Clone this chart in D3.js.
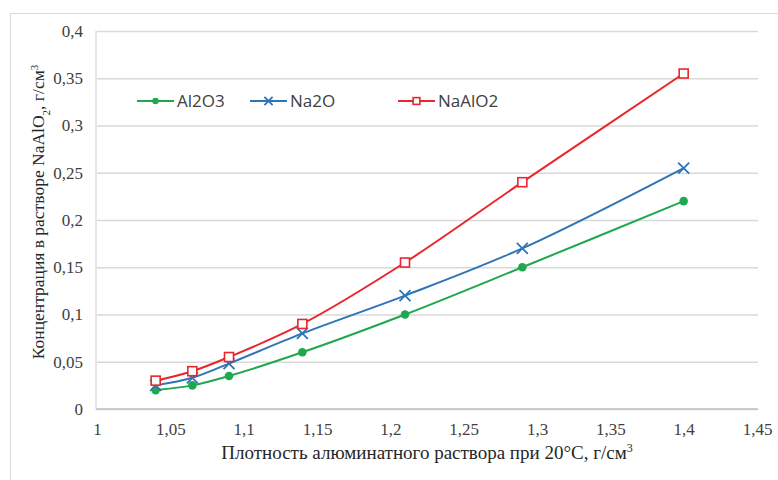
<!DOCTYPE html>
<html>
<head>
<meta charset="utf-8">
<script src="https://cdn.jsdelivr.net/npm/d3@7"></script>
<style>
  body { margin: 0; background: #fff; }
  svg { display: block; }
</style>
</head>
<body>
<svg id="chart" width="778" height="480"></svg>
<script>
// density values, g/cm3
const density = [1.04, 1.065, 1.09, 1.14, 1.21, 1.29, 1.4];
const al2o3 = [0.02, 0.025, 0.035, 0.06, 0.1, 0.15, 0.22];
const na2o = [0.025, 0.033, 0.048, 0.08, 0.12, 0.17, 0.255];
const naalo2 = [0.03, 0.04, 0.055, 0.09, 0.155, 0.24, 0.355];
const xTicks = [1, 1.05, 1.1, 1.15, 1.2, 1.25, 1.3, 1.35, 1.4, 1.45];
const yTicks = [0, 0.05, 0.1, 0.15, 0.2, 0.25, 0.3, 0.35, 0.4];
const seriesNames = ['Al2O3', 'Na2O', 'NaAlO2'];

const series = [
  { name: seriesNames[0], values: al2o3, color: '#1fa84f', marker: 'dot' },
  { name: seriesNames[1], values: na2o, color: '#2e75b6', marker: 'x' },
  { name: seriesNames[2], values: naalo2, color: '#e8262b', marker: 'square' }
];

const svg = d3.select('#chart');
const plot = { left: 97, right: 757, top: 31, bottom: 409 };

const fmt = d => String(d).replace('.', ',');
const serif = '"Liberation Serif", "DejaVu Serif", serif';

const xScale = d3.scaleLinear().domain([1, 1.45]).range([plot.left, plot.right]);
const yScale = d3.scaleLinear().domain([0, 0.4]).range([plot.bottom, plot.top]);

// outer frame
svg.append('rect')
  .attr('x', 10.5).attr('y', 13.5)
  .attr('width', 800).attr('height', 500)
  .attr('fill', 'none')
  .attr('stroke', '#d9d9d9');

// gridlines + y labels
svg.append('g')
  .attr('transform', `translate(${plot.left},0)`)
  .call(d3.axisLeft(yScale).tickValues(yTicks).tickSize(-(plot.right + 1 - plot.left)).tickFormat(fmt))
  .call(g => g.select('.domain').remove())
  .call(g => g.selectAll('.tick line').attr('stroke', '#d9d9d9').attr('stroke-width', 1.3))
  .call(g => g.selectAll('.tick text')
    .attr('x', -14)
    .attr('fill', '#404040')
    .style('font-family', serif)
    .style('font-size', '17px'));

// left axis line
svg.append('line')
  .attr('x1', plot.left - 1).attr('x2', plot.left - 1)
  .attr('y1', plot.top).attr('y2', plot.bottom)
  .attr('stroke', '#d9d9d9').attr('stroke-width', 1.3);

// bottom axis
svg.append('g')
  .attr('transform', `translate(0,${plot.bottom})`)
  .call(d3.axisBottom(xScale).tickValues(xTicks).tickSize(0).tickFormat(fmt))
  .call(g => g.select('.domain').attr('stroke', '#bfbfbf').attr('stroke-width', 1.3)
    .attr('d', `M${plot.left - 1},0H${plot.right + 1}`))
  .call(g => g.selectAll('.tick text')
    .attr('y', 14)
    .attr('fill', '#404040')
    .style('font-family', serif)
    .style('font-size', '17px'));

// lines
const line = d3.line()
  .x((d, i) => xScale(density[i]))
  .y(d => yScale(d))
  .curve(d3.curveCatmullRom.alpha(0.5));

function drawMarker(g, type, color, x, y, k = 1) {
  if (type === 'dot') {
    g.append('circle').attr('cx', x).attr('cy', y).attr('r', 4.3 * k).attr('fill', color);
  } else if (type === 'x') {
    const s = 5.5 * k;
    g.append('path')
      .attr('d', `M${x - s},${y - s}L${x + s},${y + s}M${x - s},${y + s}L${x + s},${y - s}`)
      .attr('stroke', color).attr('stroke-width', 1.8).attr('fill', 'none');
  } else {
    const s = 4.5 * k;
    g.append('rect').attr('x', x - s).attr('y', y - s).attr('width', 2 * s).attr('height', 2 * s)
      .attr('fill', '#fff').attr('stroke', color).attr('stroke-width', 1.6);
  }
}

series.forEach(s => {
  const g = svg.append('g');
  g.append('path')
    .datum(s.values)
    .attr('d', line)
    .attr('fill', 'none')
    .attr('stroke', s.color)
    .attr('stroke-width', 2);
  s.values.forEach((v, i) => drawMarker(g, s.marker, s.color, xScale(density[i]), yScale(v)));
});

// legend
const legendX = [137, 250, 398];
series.forEach((s, i) => {
  const g = svg.append('g').attr('transform', `translate(${legendX[i]},101)`);
  g.append('line').attr('x1', 0).attr('x2', 37).attr('y1', 0).attr('y2', 0)
    .attr('stroke', s.color).attr('stroke-width', 2);
  drawMarker(g, s.marker, s.color, 18.5, 0, 0.75);
  g.append('text')
    .attr('x', 40).attr('y', 0).attr('dy', '0.36em')
    .attr('fill', '#404040')
    .style('font-family', '"Open Sans", "Liberation Sans", sans-serif')
    .style('font-size', '17px')
    .text(s.name);
});

// axis titles
const xTitle = svg.append('text')
  .attr('x', (plot.left + plot.right) / 2).attr('y', 459)
  .attr('text-anchor', 'middle')
  .attr('fill', '#262626')
  .style('font-family', serif)
  .style('font-size', '19px');
xTitle.append('tspan').text('Плотность алюминатного раствора при 20°С, г/см');
xTitle.append('tspan').attr('baseline-shift', 'super').style('font-size', '12px').text('3');

const yTitle = svg.append('text')
  .attr('transform', `translate(44,${(plot.top + plot.bottom) / 2 - 8}) rotate(-90)`)
  .attr('text-anchor', 'middle')
  .attr('fill', '#262626')
  .style('font-family', serif)
  .style('font-size', '17.5px');
yTitle.append('tspan').text('Концентрация в растворе NaAlO');
yTitle.append('tspan').attr('baseline-shift', 'sub').style('font-size', '11px').text('2');
yTitle.append('tspan').text(', г/см');
yTitle.append('tspan').attr('baseline-shift', 'super').style('font-size', '11px').text('3');
</script>
</body>
</html>
